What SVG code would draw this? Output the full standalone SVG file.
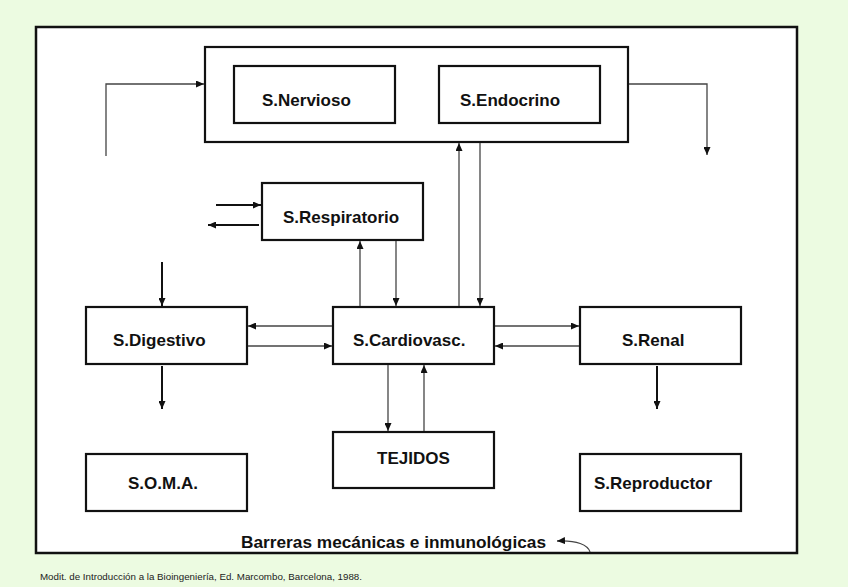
<svg xmlns="http://www.w3.org/2000/svg" width="848" height="587" viewBox="0 0 848 587">
<style>
.box{fill:none;stroke:#111;stroke-width:2.2}
.lbl{font-family:"Liberation Sans",Arial,sans-serif;font-weight:bold;font-size:17px;fill:#111}
.thin{fill:none;stroke:#444;stroke-width:1.3}
.thick{fill:none;stroke:#111;stroke-width:2}
</style>
<defs>
<marker id="ah" markerUnits="userSpaceOnUse" markerWidth="8" markerHeight="7" refX="8" refY="3.5" orient="auto">
<path d="M0,0 L8,3.5 L0,7 z" fill="#111"/>
</marker>
</defs>
<rect x="0" y="0" width="848" height="587" fill="#ecfbe1"/>
<rect id="frame" x="36" y="27" width="761" height="526" fill="#fff" stroke="#111" stroke-width="2.5"/>
<g id="control">
<rect class="box" x="205" y="47" width="423" height="95"/>
</g>
<g id="nervioso">
<rect class="box" x="234" y="66" width="161" height="57"/>
<text class="lbl" x="262" y="106">S.Nervioso</text>
</g>
<g id="endocrino">
<rect class="box" x="439" y="66" width="161" height="57"/>
<text class="lbl" x="460" y="106">S.Endocrino</text>
</g>
<g id="respiratorio">
<rect class="box" x="262" y="183" width="161" height="57"/>
<text class="lbl" x="283" y="223">S.Respiratorio</text>
</g>
<g id="digestivo">
<rect class="box" x="86" y="307" width="161" height="57"/>
<text class="lbl" x="113" y="346">S.Digestivo</text>
</g>
<g id="cardiovasc">
<rect class="box" x="333" y="307" width="161" height="57"/>
<text class="lbl" x="353" y="346">S.Cardiovasc.</text>
</g>
<g id="renal">
<rect class="box" x="580" y="307" width="161" height="57"/>
<text class="lbl" x="622" y="346">S.Renal</text>
</g>
<g id="tejidos">
<rect class="box" x="333" y="432" width="161" height="56"/>
<text class="lbl" x="377" y="464">TEJIDOS</text>
</g>
<g id="soma">
<rect class="box" x="86" y="454" width="161" height="57"/>
<text class="lbl" x="128" y="489">S.O.M.A.</text>
</g>
<g id="reproductor">
<rect class="box" x="580" y="454" width="161" height="57"/>
<text class="lbl" x="594" y="489">S.Reproductor</text>
</g>
<g id="barreras">
<text class="lbl" x="241" y="548" textLength="305" lengthAdjust="spacingAndGlyphs">Barreras mecánicas e inmunológicas</text>
</g>
<g id="connectors">
<path class="thin" d="M106,156 V84 H204" marker-end="url(#ah)"/>
<path class="thin" d="M629,84 H707 V155" marker-end="url(#ah)"/>
<path class="thick" d="M216,205 H261" marker-end="url(#ah)"/>
<path class="thick" d="M259,225 H208" marker-end="url(#ah)"/>
<path class="thin" d="M360,306 V241" marker-end="url(#ah)"/>
<path class="thin" d="M396,241 V306" marker-end="url(#ah)"/>
<path class="thin" d="M459,306 V143" marker-end="url(#ah)"/>
<path class="thin" d="M480,143 V306" marker-end="url(#ah)"/>
<path class="thick" d="M162,262 V306" marker-end="url(#ah)"/>
<path class="thick" d="M162,366 V409" marker-end="url(#ah)"/>
<path class="thin" d="M332,326 H248" marker-end="url(#ah)"/>
<path class="thin" d="M248,346 H332" marker-end="url(#ah)"/>
<path class="thin" d="M495,326 H579" marker-end="url(#ah)"/>
<path class="thin" d="M579,346 H495" marker-end="url(#ah)"/>
<path class="thick" d="M657,366 V409" marker-end="url(#ah)"/>
<path class="thin" d="M388,365 V431" marker-end="url(#ah)"/>
<path class="thin" d="M424,431 V365" marker-end="url(#ah)"/>
<path class="thin" d="M590,552 C588,545 577,540 557,541" marker-end="url(#ah)"/>
</g>
<text x="40" y="580" font-family="'Liberation Sans',Arial,sans-serif" font-size="9.5" fill="#222" textLength="322" lengthAdjust="spacingAndGlyphs">Modit. de Introducción a la Bioingeniería, Ed. Marcombo, Barcelona, 1988.</text>
</svg>
